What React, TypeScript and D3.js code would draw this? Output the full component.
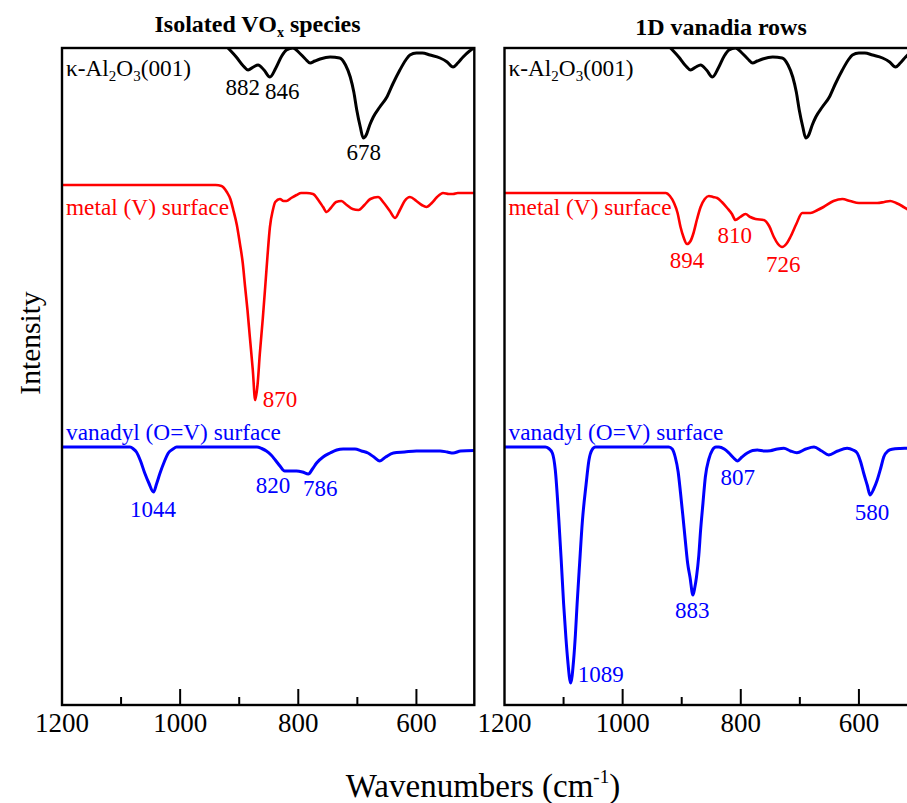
import React from "react";
import * as d3 from "d3";

// ---------- DATA (wavenumber in cm-1, intensity in arbitrary units) ----------
const panelTitles = ["Isolated VO", "1D vanadia rows"];
const xTicksMajor = [1200, 1000, 800, 600];
const xTicksMinor = [1100, 900, 700];

// κ-Al2O3(001) reference spectrum (same in both panels)
const substrateWn = [919, 905, 893, 885, 876, 868, 858, 848, 838, 828, 820, 809, 798, 788, 780, 772, 763, 746, 730, 720, 712, 706, 701, 695, 690, 685, 679, 673, 662, 650, 640, 628, 618, 611, 600, 590, 577, 560, 548, 538, 530, 521, 510, 502];
const substrateI = [657, 648, 639, 635, 638, 640, 635, 628, 637, 649, 655, 657, 652, 646, 642, 644, 646, 648, 647, 640, 628, 613, 595, 578, 567, 570, 580, 588, 598, 608, 621, 635, 645, 650, 652, 652, 650, 647, 643, 638, 642, 648, 654, 657];

// Isolated VOx: metal (V) surface
const isoMetalWn = [1200, 940, 930, 921, 915, 910, 904, 899, 894, 890, 886, 882, 877, 873, 869, 865, 860, 856, 852, 848, 843, 839, 831, 825, 820, 812, 803, 795, 786, 775, 765, 758, 752, 745, 736, 727, 718, 708, 698, 688, 678, 665, 655, 645, 636, 628, 620, 611, 600, 591, 583, 574, 565, 555, 545, 538, 530, 523, 513, 502];
const isoMetalI = [520, 520, 519, 513, 506, 495, 480, 462, 442, 418, 395, 368, 335, 305, 320, 352, 387, 418, 450, 478, 495, 503, 506, 504, 504, 507, 510, 512, 512, 511, 504, 498, 493, 497, 503, 504, 500, 496, 495, 500, 506, 508, 502, 494, 487, 495, 504, 508, 504, 500, 498, 502, 508, 512, 511, 511, 512, 512, 512, 512];

// Isolated VOx: vanadyl (O=V) surface
const isoVanadylWn = [1200, 1085, 1079, 1074, 1067, 1060, 1053, 1045, 1040, 1034, 1027, 1020, 1012, 1006, 870, 862, 854, 846, 839, 831, 823, 813, 803, 793, 783, 776, 769, 758, 746, 735, 724, 714, 704, 693, 682, 672, 662, 652, 639, 620, 600, 580, 560, 548, 538, 525, 502];
const isoVanadylI = [258, 258, 256, 253, 244, 232, 222, 213, 221, 232, 243, 252, 256, 258, 258, 256.5, 254, 250, 245, 239, 234, 234, 234, 233, 231, 236, 242, 248, 252, 255, 256, 256, 256, 254, 252, 248, 244, 248, 252, 253, 254, 254, 254, 253, 252, 254, 254.5];

// 1D vanadia rows: metal (V) surface
const rowMetalWn = [1200, 927, 920, 913, 907, 902, 897, 891, 885, 880, 874, 868, 861, 854, 847, 840, 832, 823, 815, 809, 801, 792, 784, 775, 761, 752, 744, 737, 730, 723, 716, 706, 696, 682, 670, 660, 643, 628, 615, 600, 585, 569, 557, 547, 537, 527, 519, 510, 502];
const rowMetalI = [512, 512, 509, 502, 492, 478, 468, 461, 464, 472, 486, 498, 506, 509, 508, 507, 503, 497, 491, 485, 488, 491, 488, 486, 485, 479, 468, 461, 458, 461, 468, 481, 492, 492, 495, 498, 504, 506, 504, 502, 502, 502, 503, 504, 502, 499, 496, 493, 491];

// 1D vanadia rows: vanadyl (O=V) surface
const rowVanadylWn = [1200, 1131, 1125, 1119, 1114, 1108, 1104, 1100, 1096, 1093, 1088, 1083, 1080, 1077, 1073, 1068, 1062, 1057, 1052, 1046, 922, 916, 911, 906, 902, 898, 894, 890, 886, 881, 878, 875, 871, 868, 864, 860, 854, 848, 842, 837, 828, 820, 812, 806, 798, 789, 780, 772, 760, 750, 738, 727, 716, 705, 690, 676, 663, 651, 636, 620, 610, 603, 597, 592, 586, 581, 575, 569, 563, 558, 551, 544, 530, 519, 502];
const rowVanadylI = [258, 258, 256.5, 252, 235, 185, 145, 102, 67, 45, 22, 45, 70, 102, 140, 185, 220, 245, 255, 258, 258, 256, 248, 233, 212, 189, 165, 142, 128, 110, 117, 128, 150, 175, 202, 228, 246, 255, 258, 258, 256, 252, 247, 244, 248, 252, 254.5, 255, 254, 254.3, 256, 256.7, 254, 252.3, 256, 258, 254, 250, 254, 256.7, 255, 252, 243, 232, 220, 210, 216, 225, 237, 248, 254, 255.7, 256.5, 256.7, 257];

// Peak annotations: [text, wavenumber anchor, intensity anchor, anchor]
const isoSubstrateLabels: [string, number, number, string][] = [["882", 894, 610, "middle"], ["846", 827, 606, "middle"], ["678", 689, 545, "middle"]];
const isoMetalLabels: [string, number, number, string][] = [["870", 860, 298, "start"]];
const isoVanadylLabels: [string, number, number, string][] = [["1044", 1046, 188, "middle"], ["820", 843, 212, "middle"], ["786", 763, 209, "middle"]];
const rowMetalLabels: [string, number, number, string][] = [["894", 891, 437, "middle"], ["810", 810, 462, "middle"], ["726", 728, 433, "middle"]];
const rowVanadylLabels: [string, number, number, string][] = [["1089", 1076, 23, "start"], ["883", 882, 87, "middle"], ["807", 805, 220, "middle"], ["580", 578, 185, "middle"]];

const BLACK = "#000000";
const RED = "#ff0000";
const BLUE = "#0000ff";
const FONT = "'Liberation Serif', 'Times New Roman', Times, serif";

// ---------- LAYOUT ----------
const W = 907;
const H = 803;
const TOP = 48;
const BOTTOM = 705;
const pxPerCm = 0.5907;
const WN_MAX = 1200;
const WN_MIN = 502;
const panelLefts = [62, 504.5];

const yScale = d3.scaleLinear().domain([0, 657]).range([BOTTOM, TOP]);

function zip(wn: number[], I: number[]) {
  return wn.map((w, i) => ({ w, v: I[i] }));
}

type Series = { wn: number[]; I: number[]; color: string; width: number; labels: [string, number, number, string][] };

function Panel({ idx, series, nameLabels }: { idx: number; series: Series[]; nameLabels: { text: React.ReactNode; color: string; I: number }[] }) {
  const left = panelLefts[idx];
  const right = left + (WN_MAX - WN_MIN) * pxPerCm;
  const x = d3.scaleLinear().domain([WN_MAX, WN_MIN]).range([left, right]);
  const line = d3
    .line<{ w: number; v: number }>()
    .x((d) => x(d.w))
    .y((d) => yScale(d.v))
    .curve(d3.curveMonotoneX);
  const clipId = `clip-${idx}`;
  return (
    <g>
      <defs>
        <clipPath id={clipId}>
          <rect x={left} y={TOP} width={right - left} height={BOTTOM - TOP} />
        </clipPath>
      </defs>
      <g clipPath={`url(#${clipId})`}>
        {series.map((s, i) => (
          <path key={i} d={line(zip(s.wn, s.I)) || ""} fill="none" stroke={s.color} strokeWidth={s.width} strokeLinejoin="round" />
        ))}
      </g>
      {/* frame */}
      <rect x={left} y={TOP} width={right - left} height={BOTTOM - TOP} fill="none" stroke="#000" strokeWidth={2.4} />
      {/* ticks */}
      {xTicksMajor.map((t) => (
        <g key={"M" + t}>
          {t !== WN_MAX && <line x1={x(t)} x2={x(t)} y1={BOTTOM} y2={BOTTOM - 16} stroke="#000" strokeWidth={2} />}
          <text x={x(t)} y={731.5} textAnchor="middle" fontSize={27} fontFamily={FONT} fill="#000">
            {t}
          </text>
        </g>
      ))}
      {xTicksMinor.map((t) => (
        <line key={"m" + t} x1={x(t)} x2={x(t)} y1={BOTTOM} y2={BOTTOM - 8} stroke="#000" strokeWidth={2} />
      ))}
      {/* series name labels */}
      {nameLabels.map((n, i) => (
        <text key={i} x={x(WN_MAX) + 4} y={yScale(n.I)} fontSize={23.3} fontFamily={FONT} fill={n.color}>
          {n.text}
        </text>
      ))}
      {/* peak labels */}
      {series.map((s, i) =>
        s.labels.map(([t, w, v, a]) => (
          <text key={i + t} x={x(w)} y={yScale(v)} textAnchor={a as any} fontSize={23} fontFamily={FONT} fill={s.color}>
            {t}
          </text>
        ))
      )}
    </g>
  );
}

const kappaLabel = (
  <>
    κ-Al<tspan fontSize={15} dy={5}>2</tspan>
    <tspan dy={-5}>O</tspan>
    <tspan fontSize={15} dy={5}>3</tspan>
    <tspan dy={-5}>(001)</tspan>
  </>
);

export default function App() {
  const names = [
    { text: kappaLabel, color: BLACK, I: 629 },
    { text: "metal (V) surface", color: RED, I: 490 },
    { text: "vanadyl (O=V) surface", color: BLUE, I: 265 },
  ];
  const leftSeries: Series[] = [
    { wn: substrateWn, I: substrateI, color: BLACK, width: 3, labels: isoSubstrateLabels },
    { wn: isoMetalWn, I: isoMetalI, color: RED, width: 2.6, labels: isoMetalLabels },
    { wn: isoVanadylWn, I: isoVanadylI, color: BLUE, width: 3, labels: isoVanadylLabels },
  ];
  const rightSeries: Series[] = [
    { wn: substrateWn, I: substrateI, color: BLACK, width: 3, labels: [] },
    { wn: rowMetalWn, I: rowMetalI, color: RED, width: 2.6, labels: rowMetalLabels },
    { wn: rowVanadylWn, I: rowVanadylI, color: BLUE, width: 3, labels: rowVanadylLabels },
  ];
  return (
    <svg width={W} height={H} style={{ position: "fixed", left: 0, top: 0, background: "#fff" }}>
      <rect x={0} y={0} width={W} height={H} fill="#fff" />
      <text x={257.5} y={32} textAnchor="middle" fontSize={24} fontWeight="bold" fontFamily={FONT}>
        {panelTitles[0]}
        <tspan fontSize={14} dy={5}>x</tspan>
        <tspan dy={-5}> species</tspan>
      </text>
      <text x={721} y={35} textAnchor="middle" fontSize={24} fontWeight="bold" fontFamily={FONT}>
        {panelTitles[1]}
      </text>
      <Panel idx={0} series={leftSeries} nameLabels={names} />
      <Panel idx={1} series={rightSeries} nameLabels={names} />
      <text transform="translate(40,343) rotate(-90)" textAnchor="middle" fontSize={29.5} fontFamily={FONT}>
        Intensity
      </text>
      <text x={483} y={797} textAnchor="middle" fontSize={33} fontFamily={FONT}>
        Wavenumbers (cm
        <tspan fontSize={19} dy={-14}>-1</tspan>
        <tspan dy={14}>)</tspan>
      </text>
    </svg>
  );
}
